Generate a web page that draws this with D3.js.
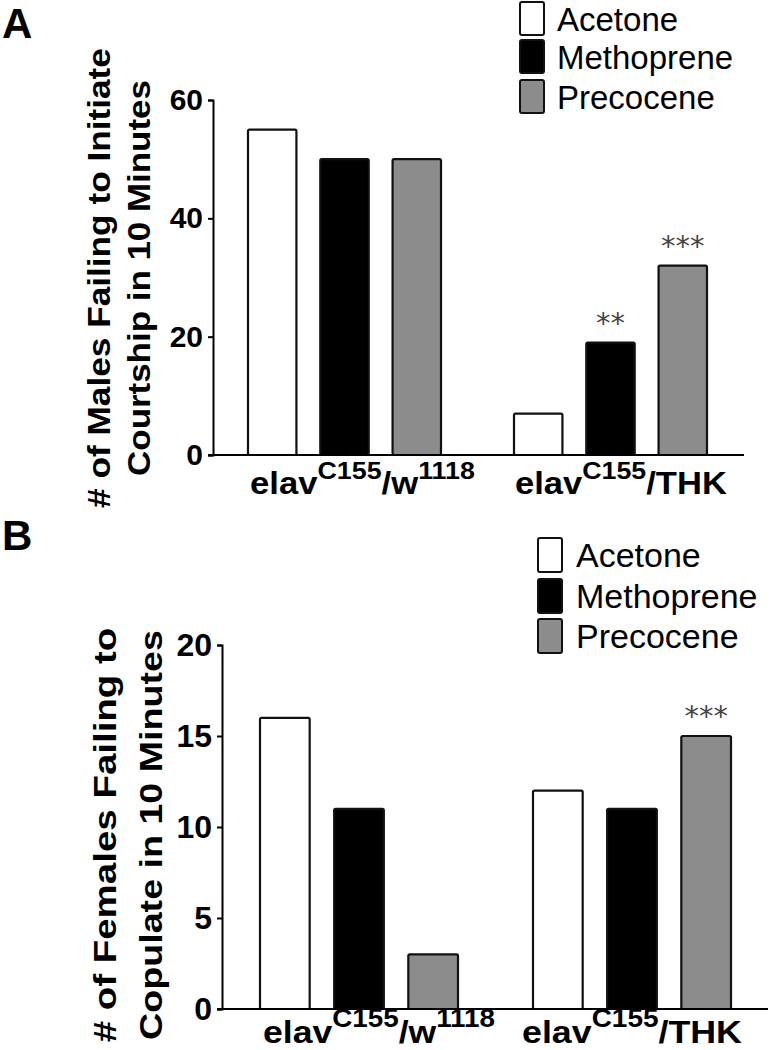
<!DOCTYPE html>
<html>
<head>
<meta charset="UTF-8" />
<script src="https://d3js.org/d3.v7.min.js"></script>
<style>
  body { margin: 0; background: #fff; }
  svg { display: block; font-family: "Liberation Sans", Arial, sans-serif; }
</style>
</head>
<body>
<svg id="fig" width="770" height="1050"></svg>
<script>
// data
const treatments = ["Acetone", "Methoprene", "Precocene"];
const fills = ["#ffffff", "#000000", "#8c8c8c"];
const genotypes = ["w1118", "THK"];
// label pieces: base, superscript, suffix, superscript
const labelParts = [["elav", "C155", "/w", "1118"], ["elav", "C155", "/THK", ""]];
const maleCounts = [[55, 50, 50], [7, 19, 32]];
const maleStars = [["", "", ""], ["", "**", "***"]];
const femaleCounts = [[16, 11, 3], [12, 11, 15]];
const femaleStars = [["", "", ""], ["", "", "***"]];
const maleTicks = [0, 20, 40, 60];
const femaleTicks = [0, 5, 10, 15, 20];
const maleTitle = ["# of Males Failing to Initiate", "Courtship in 10 Minutes"];
const femaleTitle = ["# of Females Failing to", "Copulate in 10 Minutes"];

const svg = d3.select("#fig");

function drawPanel(p) {
  const g = svg.append("g");
  const y = d3.scaleLinear().domain([0, p.ticks[p.ticks.length - 1]]).range([p.y0, p.y1]);
  const x0 = d3.scaleBand().domain(genotypes)
    .range([p.barsLeft, p.barsLeft + p.groupStep + p.groupW])
    .paddingInner((p.groupStep - p.groupW) / p.groupStep).paddingOuter(0);
  const x1 = d3.scaleBand().domain(treatments).range([0, p.groupW]).paddingInner(0.33);

  // panel letter
  g.append("text").attr("x", 2).attr("y", p.letterY)
    .attr("font-size", 42).attr("font-weight", "bold").text(p.letter);

  // bars
  const grp = g.selectAll("g.grp").data(p.counts).join("g").attr("class", "grp")
    .attr("transform", (d, i) => `translate(${x0(genotypes[i])},0)`);
  grp.selectAll("rect").data(d => d).join("rect")
    .attr("x", (d, j) => x1(treatments[j]))
    .attr("width", x1.bandwidth())
    .attr("y", d => y(d))
    .attr("height", d => y(0) - y(d))
    .attr("fill", (d, j) => fills[j])
    .attr("stroke", "#111").attr("stroke-width", 2.2).attr("rx", 1.5);
  // significance stars
  grp.selectAll("text.star")
    .data((d, i) => d.map((v, j) => ({ v, s: p.stars[i][j], j })))
    .join("text").attr("class", "star")
    .attr("x", d => x1(treatments[d.j]) + x1.bandwidth() / 2)
    .attr("y", d => y(d.v) - 10)
    .attr("text-anchor", "middle")
    .attr("font-family", "DejaVu Sans")
    .attr("font-size", 29).attr("fill", "#444")
    .text(d => d.s);

  // y axis
  g.append("g").attr("transform", `translate(${p.axisX},0)`)
    .call(d3.axisLeft(y).tickValues(p.ticks).tickSize(5).tickPadding(5).tickFormat(d3.format("d")))
    .attr("font-family", null).attr("font-size", p.tickFont).attr("font-weight", "bold")
    .call(a => a.select(".domain").attr("stroke", "#000").attr("stroke-width", 2))
    .call(a => a.selectAll(".tick line").attr("stroke", "#000").attr("stroke-width", 2))
    .call(a => a.selectAll(".tick text").attr("fill", "#000"));

  // x axis baseline
  g.append("line")
    .attr("x1", p.axisX - 5).attr("x2", p.axisEnd)
    .attr("y1", y(0)).attr("y2", y(0))
    .attr("stroke", "#000").attr("stroke-width", 2);

  // group labels
  labelParts.forEach((parts, i) => {
    const t = g.append("text").attr("font-weight", "bold").attr("font-size", p.labelFont);
    t.append("tspan").text(parts[0]);
    t.append("tspan").attr("font-size", p.supFont).attr("dy", -p.supShift).text(parts[1]);
    t.append("tspan").attr("dy", p.supShift).text(parts[2]);
    if (parts[3]) t.append("tspan").attr("font-size", p.supFont).attr("dy", -p.supShift).text(parts[3]);
    const k = p.labelW[i] / t.node().getComputedTextLength();
    t.attr("transform", `translate(${p.labelX[i]},${p.labelY}) scale(${k},1)`);
  });

  // y title
  p.title.forEach((line, i) => {
    const t = g.append("text").attr("text-anchor", "middle")
      .attr("font-size", p.titleFont).attr("font-weight", "bold").text(line);
    const k = p.titleLen[i] / t.node().getComputedTextLength();
    t.attr("transform", `translate(${p.titleX[i]},${p.titleY}) rotate(-90) scale(${k},1)`);
  });

  // legend
  const lg = g.append("g").selectAll("g").data(treatments).join("g")
    .attr("transform", (d, i) => `translate(${p.legendX},${p.legendY[i]})`);
  lg.append("rect").attr("width", 24).attr("height", p.legendH)
    .attr("fill", (d, i) => fills[i]).attr("stroke", "#111").attr("stroke-width", 2).attr("rx", 2);
  lg.append("text").attr("x", p.legendTextDx).attr("y", p.legendBase)
    .attr("font-size", p.legendFont).text(d => d);
}

drawPanel({
  letter: "A", letterY: 38, counts: maleCounts, stars: maleStars, ticks: maleTicks,
  y0: 455, y1: 100, axisX: 213, axisEnd: 744, tickFont: 30,
  barsLeft: 248, groupW: 193, groupStep: 266,
  labelX: [250, 515], labelY: 494, labelW: [225, 212], labelFont: 31, supFont: 24, supShift: 15,
  title: maleTitle, titleX: [110, 150], titleY: 278, titleLen: [460, 396], titleFont: 31,
  legendX: 520, legendY: [2, 40, 80], legendH: 33, legendTextDx: 37, legendBase: 29, legendFont: 33
});

drawPanel({
  letter: "B", letterY: 550, counts: femaleCounts, stars: femaleStars, ticks: femaleTicks,
  y0: 1009, y1: 645, axisX: 222, axisEnd: 768, tickFont: 32,
  barsLeft: 260, groupW: 198, groupStep: 273,
  labelX: [263, 522], labelY: 1043, labelW: [232, 220], labelFont: 32, supFont: 25, supShift: 16,
  title: femaleTitle, titleX: [116, 162], titleY: 835, titleLen: [415, 410], titleFont: 32,
  legendX: 538, legendY: [538, 579, 619], legendH: 34, legendTextDx: 38, legendBase: 29, legendFont: 34
});
</script>
</body>
</html>
